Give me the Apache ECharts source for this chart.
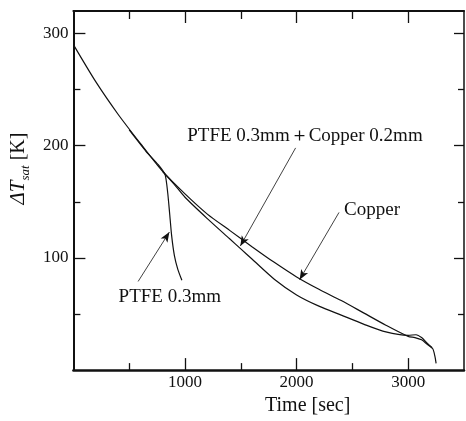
<!DOCTYPE html>
<html>
<head>
<meta charset="utf-8">
<script src="https://cdn.jsdelivr.net/npm/echarts@6/dist/echarts.min.js"></script>
<style>html,body{margin:0;padding:0;background:#fff}#c{width:466px;height:421px}</style>
</head>
<body>
<div id="c"></div>
<script>
// ---- data (time in s, ΔT_sat in K) ----
const copperTime = [0,200,400,600,800,1000,1200,1400,1600,1800,2000,2200,2400,2600,2800,3000,3060,3120,3170,3220,3240,3250];
const copperVal  = [290,257,228,202,177,157,139,124.5,110,96,83,72,62,51,40,30,29,27,23,19,12,6];
const ptfeCuTime = [800,900,1000,1200,1400,1500,1600,1800,2000,2200,2400,2600,2800,3000,3070,3120,3170,3215];
const ptfeCuVal  = [177,166,154,135,117,108,99,81,67,57,49,41,34,31,31.5,29,24,20];
const ptfeTime   = [500,650,760,822,845,862,880,905,935,972];
const ptfeVal    = [214,195,183,174,158,140,120,102,90,80];

const xMajor = [1000,2000,3000];
const xMinor = [500,1500,2500];
const yMajor = [100,200,300];
const yMinor = [50,150,250];

const annotTexts = ['PTFE 0.3mm＋Copper 0.2mm','Copper','PTFE 0.3mm'];
const annotAt    = [[2075,209],[2676,143],[864,65.5]];
const arrowFrom  = [[1991,198],[2380,140.5],[580,79]];
const arrowTo    = [[1496,110.6],[2027,80.6],[860,123]];

const FONT = 'Liberation Serif';
const INK = '#111';
const zip = (a,b)=>a.map((v,i)=>[v,b[i]]);
const plain = v => String(v);

const tickAxisX = (pos, vals, len, lineShow, lw) => ({
  type:'value', min:0, max:3500, interval:500, position:pos, gridIndex:0,
  axisLine:{show:lineShow, onZero:false, lineStyle:{color:INK, width:lw}},
  axisTick:{show:true, inside:true, length:len, customValues:vals, lineStyle:{color:INK, width:1.3}},
  axisLabel:{show:false}, splitLine:{show:false}
});
const tickAxisY = (pos, vals, len, lineShow, lw) => ({
  type:'value', min:0, max:320, interval:50, position:pos, gridIndex:0,
  axisLine:{show:lineShow, onZero:false, lineStyle:{color:INK, width:lw}},
  axisTick:{show:true, inside:true, length:len, customValues:vals, lineStyle:{color:INK, width:1.3}},
  axisLabel:{show:false}, splitLine:{show:false}
});

const x0 = tickAxisX('bottom', xMajor, 12, true, 2.5);
x0.axisLabel = {show:true, customValues:xMajor, formatter:plain, fontSize:17, fontFamily:FONT, color:INK, margin:4};
x0.name = 'Time [sec]';
x0.nameLocation = 'middle';
x0.nameGap = 18;
x0.nameTextStyle = {fontSize:20, fontFamily:FONT, color:INK, padding:[0,0,0,78]};

const y0 = tickAxisY('left', yMajor, 12, true, 2);
y0.axisLabel = {show:true, customValues:yMajor, formatter:plain, fontSize:17, fontFamily:FONT, color:INK, margin:5};
y0.name = '{i|ΔT}{s|sat}{n| [K]}';
y0.nameLocation = 'middle';
y0.nameRotate = 90;
y0.nameGap = 33;
y0.nameTextStyle = {
  padding:[0,0,0,44], color:INK, fontFamily:FONT,
  rich:{
    i:{fontSize:21, fontStyle:'italic', fontFamily:FONT, color:INK, verticalAlign:'bottom', lineHeight:22},
    s:{fontSize:13, fontStyle:'italic', fontFamily:FONT, color:INK, verticalAlign:'bottom', lineHeight:22, padding:[0,0,-3,0]},
    n:{fontSize:20, fontFamily:FONT, color:INK, verticalAlign:'bottom', lineHeight:22}
  }
};

const lineSeries = (name, t, v, extra) => Object.assign({
  name, type:'line', xAxisIndex:0, yAxisIndex:0, data:zip(t,v),
  showSymbol:false, smooth:0.25, animation:false, silent:true,
  lineStyle:{color:INK, width:1.2}
}, extra||{});

const chart = echarts.init(document.getElementById('c'), null, {renderer:'canvas'});
chart.setOption({
  animation:false,
  backgroundColor:'#fff',
  grid:{left:68, right:2, top:11, bottom:46.5, containLabel:false},
  xAxis:[x0, tickAxisX('bottom', xMinor, 7, false, 1), tickAxisX('top', xMajor, 12, true, 2), tickAxisX('top', xMinor, 8, false, 1)],
  yAxis:[y0, tickAxisY('left', yMinor, 7, false, 1), tickAxisY('right', yMajor, 10, true, 1.5), tickAxisY('right', yMinor, 6, false, 1)],
  series:[
    lineSeries('Copper', copperTime, copperVal, {
      markLine:{
        silent:true, animation:false, symbol:['none','arrow'], symbolSize:[6,10],
        lineStyle:{color:INK, width:0.8, type:'solid'}, label:{show:false},
        data: arrowFrom.map((f,i)=>[{coord:f},{coord:arrowTo[i]}])
      },
      markPoint:{
        silent:true, animation:false, symbol:'rect', symbolSize:1,
        itemStyle:{color:'rgba(0,0,0,0)'},
        label:{show:true, position:'inside', formatter:'{b}', color:INK, fontSize:19, fontFamily:FONT},
        data: annotTexts.map((t,i)=>({name:t, coord:annotAt[i]}))
      }
    }),
    lineSeries('PTFE 0.3mm+Copper 0.2mm', ptfeCuTime, ptfeCuVal),
    lineSeries('PTFE 0.3mm', ptfeTime, ptfeVal, {smooth:0.2})
  ]
});
</script>
</body>
</html>
